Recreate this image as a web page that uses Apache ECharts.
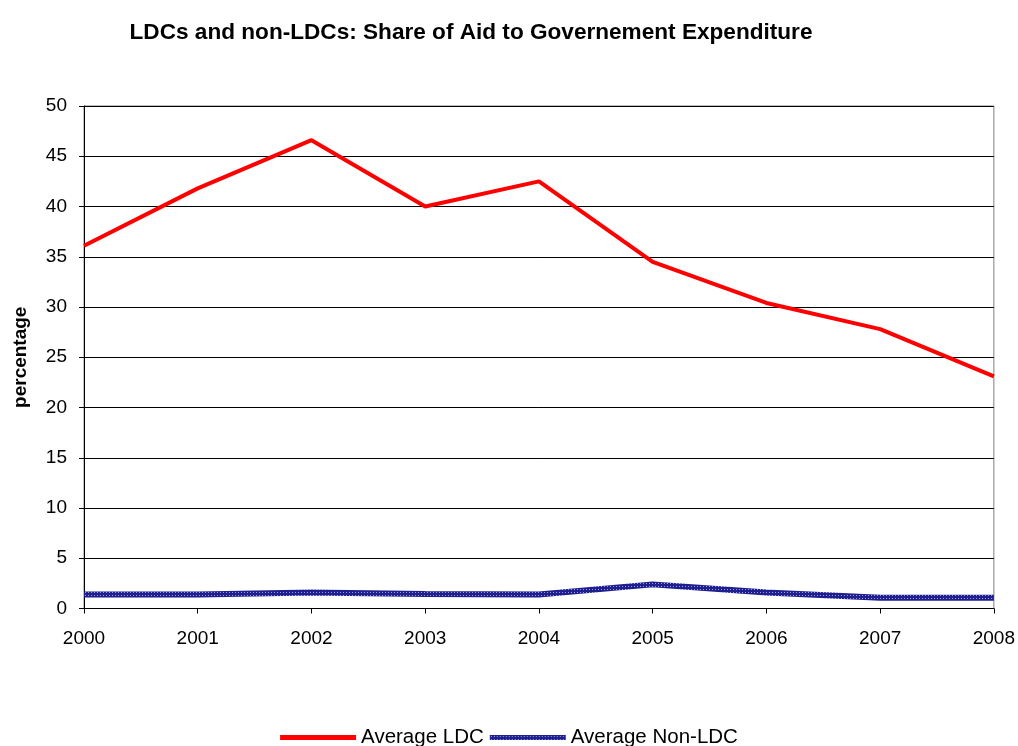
<!DOCTYPE html>
<html>
<head>
<meta charset="utf-8">
<script src="https://cdn.jsdelivr.net/npm/echarts@6/dist/echarts.min.js"></script>
<style>
  html, body { margin: 0; padding: 0; background: #fff; }
  #chart { width: 1018px; height: 746px; }
</style>
</head>
<body>
<div id="chart"></div>
<script>
// Years on the category axis
const years = ['2000', '2001', '2002', '2003', '2004', '2005', '2006', '2007', '2008'];
// Aid as share of government expenditure (%)
const avgLDC = [36.1, 41.8, 46.6, 40.0, 42.5, 34.5, 30.4, 27.8, 23.1];
const avgNonLDC = [1.4, 1.4, 1.6, 1.45, 1.4, 2.4, 1.6, 1.07, 1.07];
const yTicks = [0, 5, 10, 15, 20, 25, 30, 35, 40, 45, 50];

// Dotted navy texture for the non-LDC line
function navyTexture() {
  const c = document.createElement('canvas');
  c.width = 3; c.height = 3;
  const g = c.getContext('2d');
  g.fillStyle = '#1f1f8f';
  g.fillRect(0, 0, 3, 3);
  g.fillStyle = '#9a9ad6';
  g.fillRect(1, 1, 1, 1);
  return c;
}
const navyPattern = { image: navyTexture(), repeat: 'repeat' };

const chart = echarts.init(document.getElementById('chart'), null, { renderer: 'canvas' });
const font = '"Liberation Sans", Arial, sans-serif';

chart.setOption({
  animation: false,
  backgroundColor: '#fff',
  title: {
    text: 'LDCs and non-LDCs: Share of Aid to Governement Expenditure',
    left: 466, top: 16, textAlign: 'center',
    textStyle: { fontFamily: font, fontSize: 22.6, fontWeight: 'bold', color: '#000' }
  },
  grid: {
    left: 84, right: 22, top: 106, bottom: 137.5,
    show: true, borderColor: '#808080', borderWidth: 1, backgroundColor: '#fff'
  },
  legend: {
    bottom: -7, left: 'center',
    itemWidth: 76, itemHeight: 5, itemGap: 6,
    textStyle: { fontFamily: font, fontSize: 20.5, color: '#000' },
    data: [
      { name: 'Average LDC', icon: 'rect', itemStyle: { color: '#ff0000' } },
      { name: 'Average Non-LDC', icon: 'rect', itemStyle: { color: navyPattern } }
    ]
  },
  xAxis: {
    type: 'category', data: years, boundaryGap: false,
    axisLine: { lineStyle: { color: '#000', width: 1 } },
    axisTick: { show: true, length: 5, lineStyle: { color: '#000' } },
    axisLabel: { fontFamily: font, fontSize: 19, color: '#000', margin: 21 },
    splitLine: { show: false }
  },
  yAxis: {
    type: 'value', min: 0, max: 50, interval: 5,
    name: 'percentage', nameLocation: 'middle', nameGap: 54, nameRotate: 90,
    nameTextStyle: { fontFamily: font, fontSize: 19, fontWeight: 'bold', color: '#000' },
    axisLine: { show: true, lineStyle: { color: '#000', width: 1 } },
    axisTick: { show: true, length: 5, lineStyle: { color: '#000' } },
    axisLabel: {
      fontFamily: font, fontSize: 19, color: '#000', margin: 17,
      formatter: v => yTicks.includes(v) ? String(v) : ''
    },
    splitLine: { show: true, lineStyle: { color: '#000', width: 1 } }
  },
  series: [
    {
      name: 'Average LDC', type: 'line', data: avgLDC,
      symbol: 'none', color: '#ff0000',
      lineStyle: { color: '#ff0000', width: 4 }
    },
    {
      name: 'Average Non-LDC', type: 'line', data: avgNonLDC,
      symbol: 'none', color: '#1f1f8f',
      lineStyle: { color: navyPattern, width: 6 }
    }
  ]
});
</script>
</body>
</html>
